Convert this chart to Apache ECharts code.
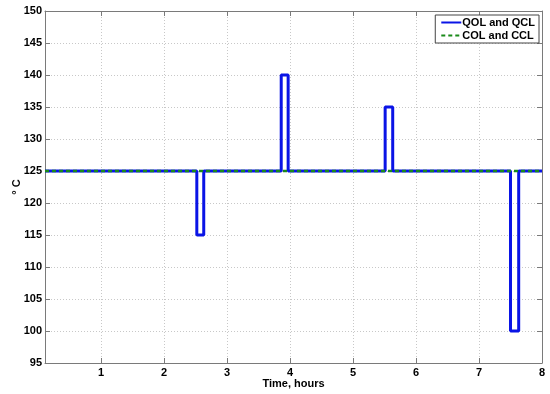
<!DOCTYPE html>
<html><head><meta charset="utf-8">
<script src="https://cdn.jsdelivr.net/npm/echarts@6/dist/echarts.min.js"></script>
<style>html,body{margin:0;padding:0;background:#fff}#c{width:550px;height:394px}</style>
</head><body><div id="c"></div>
<script>
const xTickLabels = [1, 2, 3, 4, 5, 6, 7, 8];
const yTickLabels = [95, 100, 105, 110, 115, 120, 125, 130, 135, 140, 145, 150];
const qolTime = [0.11, 2.52, 2.52, 2.63, 2.63, 3.86, 3.86, 3.97, 3.97, 5.51, 5.51, 5.63, 5.63, 7.50, 7.50, 7.63, 7.63, 8];
const qolTemp = [125, 125, 115, 115, 125, 125, 140, 140, 125, 125, 135, 135, 125, 125, 100, 100, 125, 125];
const colTime = [0.11, 8];
const colTemp = [125, 125];

const font = 'Liberation Sans, Arial, sans-serif';
const chart = echarts.init(document.getElementById('c'));
const xMin = 0.11, xMax = 8;
const axisCol = '#7a7a7a';
function xLab(v) { return xTickLabels.indexOf(Math.round(v * 1000) / 1000) >= 0 ? String(v) : ''; }
chart.setOption({
  animation: false,
  backgroundColor: '#fff',
  grid: { left: 45, right: 8, top: 11, bottom: 31, containLabel: false, outerBoundsMode: 'none' },
  legend: {
    right: 11, top: 15, orient: 'vertical',
    backgroundColor: '#fff', borderColor: '#444', borderWidth: 1,
    padding: [2, 4, 2, 5], itemGap: 2, itemWidth: 20, itemHeight: 10,
    itemStyle: { opacity: 0 },
    textStyle: { fontFamily: font, fontWeight: 'bold', fontSize: 11, color: '#000', padding: [0, 0, 0, -4] },
    data: ['QOL and QCL', 'COL and CCL']
  },
  xAxis: [{
    type: 'value', min: xMin, max: xMax, splitNumber: 8,
    name: 'Time, hours', nameLocation: 'middle', nameGap: 15, nameMoveOverlap: false,
    nameTextStyle: { fontFamily: font, fontWeight: 'bold', fontSize: 11, color: '#000', verticalAlign: 'top' },
    axisLine: { show: true, onZero: false, lineStyle: { color: axisCol, width: 1 } },
    axisTick: { show: true, inside: true, length: 5, lineStyle: { color: axisCol } },
    axisLabel: { fontFamily: font, fontWeight: 'bold', fontSize: 11, color: '#000', margin: 4, formatter: xLab, showMinLabel: false },
    splitLine: { show: true, lineStyle: { color: '#c8c8c8', type: [1, 2], width: 1 } }
  }, {
    type: 'value', min: xMin, max: xMax, splitNumber: 8, position: 'top',
    axisLine: { show: true, onZero: false, lineStyle: { color: axisCol, width: 1 } },
    axisTick: { show: true, inside: true, length: 5, lineStyle: { color: axisCol } },
    axisLabel: { show: false }, splitLine: { show: false }
  }],
  yAxis: [{
    type: 'value', min: yTickLabels[0], max: yTickLabels[yTickLabels.length - 1], interval: 5,
    name: '° C', nameLocation: 'middle', nameGap: 28, nameRotate: 90, nameMoveOverlap: false,
    nameTextStyle: { fontFamily: font, fontWeight: 'bold', fontSize: 11, color: '#000', verticalAlign: 'middle' },
    axisLine: { show: true, onZero: false, lineStyle: { color: axisCol, width: 1 } },
    axisTick: { show: true, inside: true, length: 5, lineStyle: { color: axisCol } },
    axisLabel: { fontFamily: font, fontWeight: 'bold', fontSize: 11, color: '#000', margin: 3 },
    splitLine: { show: true, lineStyle: { color: '#c8c8c8', type: [1, 2], width: 1 } }
  }, {
    type: 'value', min: yTickLabels[0], max: yTickLabels[yTickLabels.length - 1], interval: 5, position: 'right',
    axisLine: { show: true, onZero: false, lineStyle: { color: axisCol, width: 1 } },
    axisTick: { show: true, inside: true, length: 5, lineStyle: { color: axisCol } },
    axisLabel: { show: false }, splitLine: { show: false }
  }],
  series: [{
    name: 'QOL and QCL', type: 'line', symbol: 'none', xAxisIndex: 0, yAxisIndex: 0,
    data: qolTime.map((t, i) => [t, qolTemp[i]]),
    lineStyle: { color: '#0a14e6', width: 3 }, itemStyle: { color: '#0a14e6' }
  }, {
    name: 'COL and CCL', type: 'line', symbol: 'none', xAxisIndex: 0, yAxisIndex: 0,
    data: colTime.map((t, i) => [t, colTemp[i]]),
    lineStyle: { color: '#1a8a1a', width: 2.5, type: [4, 3] }, itemStyle: { color: '#1a8a1a' }
  }]
});
</script></body></html>
